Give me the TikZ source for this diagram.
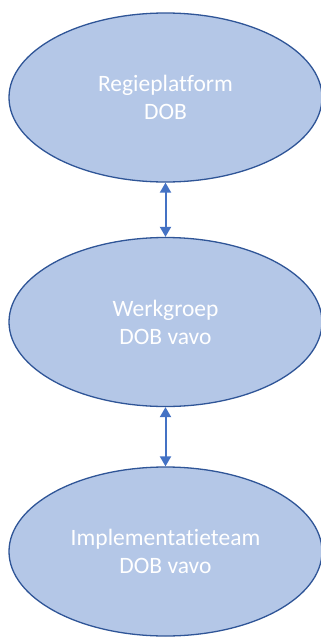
\documentclass[tikz,border=0pt]{standalone}
\usepackage{fontspec}
\setmainfont{Carlito}[Ligatures=NoCommon]
\usetikzlibrary{shapes.geometric,arrows.meta}
\definecolor{ellfill}{HTML}{B4C7E7}
\definecolor{elldraw}{HTML}{2F5597}
\definecolor{arrcol}{HTML}{4472C4}
\begin{document}
\begin{tikzpicture}[x=1pt,y=-1pt,
  blob/.style={ellipse, draw=elldraw, fill=ellfill, line width=1.3pt,
    minimum width=313pt, minimum height=169pt, inner sep=0pt,
    text=white, align=center, font=\fontsize{23.5}{28}\selectfont},
  link/.style={draw=arrcol, line width=2pt,
    {Triangle[length=10pt,width=11pt]}-{Triangle[length=10pt,width=11pt]}}]
\useasboundingbox (0,0) rectangle (321,637);
\node[blob] (e1) at (165.5,97.5) {Regieplatform\\DOB};
\node[blob] (e2) at (165.5,322) {Werkgroep\\DOB vavo};
\node[blob] (e3) at (165.5,551.5) {Implementatieteam\\DOB vavo};
\draw[link] (e1.south) -- (e2.north);
\draw[link] (e2.south) -- (e3.north);
\end{tikzpicture}
\end{document}
